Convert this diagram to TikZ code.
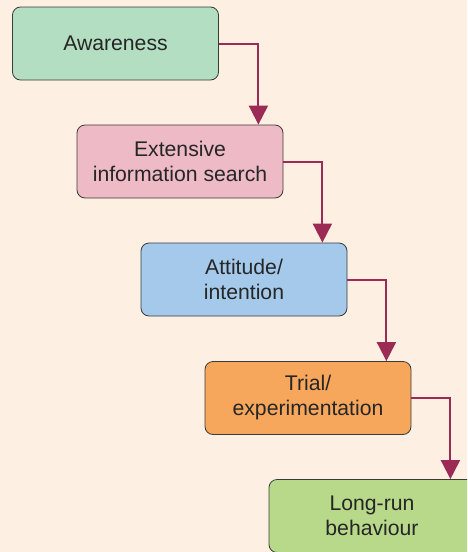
\documentclass[tikz,border=0pt]{standalone}
\usepackage{fontspec}
\setmainfont{Liberation Sans}
\usetikzlibrary{arrows.meta}
\definecolor{bgcream}{HTML}{FDF0E2}
\definecolor{cAware}{HTML}{B3DEC1}
\definecolor{cSearch}{HTML}{EDBAC6}
\definecolor{cAttit}{HTML}{A4C9EA}
\definecolor{cTrial}{HTML}{F7A75C}
\definecolor{cLong}{HTML}{B8D98A}
\definecolor{linkred}{HTML}{9B2A55}
\definecolor{edgegray}{HTML}{3A3A3A}
\tikzset{
  stage/.style={draw=edgegray, line width=0.8pt, rounded corners=8pt,
    minimum width=206pt, minimum height=73pt, align=center,
    font=\fontsize{21.2}{25}\selectfont, text=black!85, inner sep=0pt},
  link/.style={draw=linkred, line width=2pt,
    -{Triangle[width=19pt,length=19pt]}}
}
\begin{document}
\begin{tikzpicture}[x=1pt,y=-1pt]
  \fill[bgcream] (0,0) rectangle (467,552);
  \useasboundingbox (0,0) rectangle (467,552);
  \clip (0,0) rectangle (467,552);
  \node[stage, fill=cAware]  (s1) at (115.5,43.5) {Awareness};
  \node[stage, fill=cSearch] (s2) at (180,161.5) {Extensive\\information search};
  \node[stage, fill=cAttit]  (s3) at (244,279.5) {Attitude/\\intention};
  \node[stage, fill=cTrial]  (s4) at (308,398) {Trial/\\experimentation};
  \node[stage, fill=cLong]   (s5) at (372,516) {Long-run\\behaviour};
  \draw[link] (s1.east) -| ([xshift=-25pt]s2.north east);
  \draw[link] (s2.east) -| ([xshift=-25pt]s3.north east);
  \draw[link] (s3.east) -| ([xshift=-25pt]s4.north east);
  \draw[link] (s4.east) -| ([xshift=-25pt]s5.north east);
\end{tikzpicture}
\end{document}
